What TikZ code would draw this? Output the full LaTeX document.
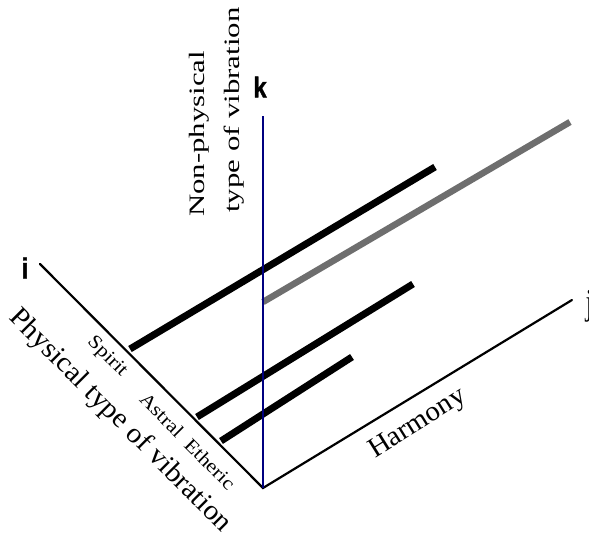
\documentclass[tikz,border=0pt]{standalone}
\usepackage{fontspec}
\setmainfont{Liberation Serif}
\newfontfamily\axisfont{Liberation Sans Bold}[FakeBold=1.5]
\definecolor{kaxis}{RGB}{0,0,128}
\definecolor{graybar}{RGB}{110,110,110}
\begin{document}
\begin{tikzpicture}[x=1pt,y=-1pt,
  axisline/.style={line width=2.2pt,line cap=round},
  barline/.style={line width=7pt},
  lbl/.style={inner sep=0pt},
  axislabel/.style={lbl,yscale=1.2,font=\axisfont\fontsize{24}{28}\selectfont},
  layerlabel/.style={lbl,font=\fontsize{19}{22}\selectfont,rotate=-45,xscale=1.15},
]
\useasboundingbox (0,0) rectangle (589,537);
% axes
\coordinate (O) at (263,488);
\coordinate (I) at (40,264);
\coordinate (J) at (572,300);
\coordinate (K) at (263,116);
% bars
\coordinate (sp0) at (130,349);
\coordinate (sp1) at (435,167);
\coordinate (as0) at (197,417);
\coordinate (as1) at (413,284);
\coordinate (et0) at (221,441);
\coordinate (et1) at (352,357);
\coordinate (gr0) at (263,302);
\coordinate (gr1) at (570,122);

\draw[axisline] (I) -- (O) -- (J);
\draw[barline] (sp0) -- (sp1);
\draw[barline] (as0) -- (as1);
\draw[barline] (et0) -- (et1);
\draw[barline,graybar,line width=6.5pt] (gr0) -- (gr1);
\draw[line width=2.2pt,kaxis] (O) -- (K);

% labels
\node[axislabel] (li) at (25,268) {i};
\node[axislabel] (lk) at (260,87) {k};
\node[lbl,yscale=1.4,font=\fontsize{26}{30}\selectfont,anchor=base west] (lj) at (585.5,315) {j};

\node[lbl,font=\fontsize{28}{32}\selectfont,rotate=-45,xscale=1.05] (phys) at (120,421) {Physical type of vibration};
\node[layerlabel] (spirit) at (107,357) {Spirit};
\node[layerlabel] (astral) at (162,415) {Astral};
\node[layerlabel] (etheric) at (210,464) {Etheric};

\node[lbl,yscale=1.4,font=\fontsize{22}{26}\selectfont,rotate=90,anchor=base west] (np1) at (204,217) {Non-physical};
\node[lbl,yscale=1.4,font=\fontsize{22}{26}\selectfont,rotate=90,anchor=base west] (np2) at (239,213) {type of vibration};

\node[lbl,font=\fontsize{28}{32}\selectfont,rotate=32,xscale=1.03] (harm) at (418,424) {Harmony};
\end{tikzpicture}
\end{document}
